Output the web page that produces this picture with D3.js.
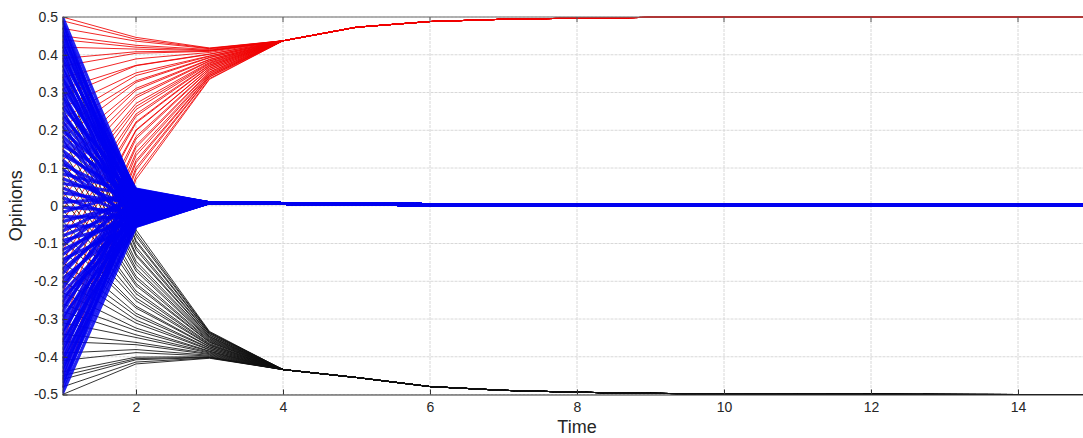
<!DOCTYPE html>
<html>
<head>
<meta charset="utf-8">
<script src="https://cdn.jsdelivr.net/npm/d3@7/dist/d3.min.js"></script>
<style>
  html, body { margin: 0; padding: 0; background: #fff; }
  svg { display: block; }
  text { font-family: "Liberation Sans", Arial, sans-serif; fill: #262626; }
</style>
</head>
<body>
<script>
// ---------------- DATA ----------------
const timeSteps = [1, 2, 3, 4, 5, 6, 7, 8, 9, 10, 11, 12, 13, 14, 15];
const xTickValues = [2, 4, 6, 8, 10, 12, 14];
const yTickValues = [-0.5, -0.4, -0.3, -0.2, -0.1, 0, 0.1, 0.2, 0.3, 0.4, 0.5];
const yTickLabels = ["-0.5", "-0.4", "-0.3", "-0.2", "-0.1", "0", "0.1", "0.2", "0.3", "0.4", "0.5"];

// Red agents (converge to +0.5): opinion at t=1, t=2, t=3
const redStart = [0.49, 0.47, 0.44, 0.42, 0.39, 0.37, 0.34, 0.31, 0.29, 0.26,
                  0.23, 0.21, 0.18, 0.15, 0.12, 0.10, 0.07, 0.04, 0.02, -0.01,
                  -0.04, -0.07, -0.09, -0.12, -0.15, -0.17, -0.20, -0.23, -0.26, -0.28,
                  -0.31, -0.34, -0.36, -0.39, -0.41, -0.44, -0.46, -0.48, 0.50, 0.45];
const redStep2 = [0.441, 0.436, 0.420, 0.415, 0.408, 0.404, 0.389, 0.372, 0.371, 0.352,
                  0.345, 0.331, 0.327, 0.311, 0.306, 0.292, 0.286, 0.271, 0.263, 0.255,
                  0.243, 0.237, 0.222, 0.219, 0.201, 0.199, 0.183, 0.177, 0.160, 0.154,
                  0.141, 0.133, 0.120, 0.114, 0.101, 0.094, 0.079, 0.070, 0.446, 0.425];
const redStep3 = [0.417, 0.416, 0.412, 0.411, 0.410, 0.409, 0.406, 0.402, 0.401, 0.397,
                  0.396, 0.393, 0.392, 0.388, 0.387, 0.384, 0.383, 0.380, 0.378, 0.376,
                  0.373, 0.372, 0.369, 0.368, 0.364, 0.364, 0.360, 0.359, 0.355, 0.354,
                  0.351, 0.349, 0.346, 0.345, 0.342, 0.341, 0.337, 0.335, 0.418, 0.414];
// common red trajectory for t = 4..15
const redTail = [0.437, 0.473, 0.488, 0.494, 0.497, 0.499, 0.4995, 0.4998, 0.4999, 0.5, 0.5, 0.5];

// Black agents (converge to -0.5)
const blackStart = [0.49, 0.47, 0.44, 0.42, 0.39, 0.37, 0.34, 0.31, 0.29, 0.26,
                    0.23, 0.21, 0.18, 0.15, 0.12, 0.10, 0.07, 0.04, 0.02, -0.01,
                    -0.04, -0.07, -0.09, -0.12, -0.15, -0.17, -0.20, -0.23, -0.26, -0.28,
                    -0.31, -0.34, -0.36, -0.39, -0.41, -0.44, -0.46, -0.48, -0.50, -0.45];
const blackStep2 = [-0.064, -0.073, -0.080, -0.092, -0.097, -0.109, -0.116, -0.128, -0.133, -0.147,
                    -0.155, -0.166, -0.173, -0.187, -0.194, -0.206, -0.212, -0.226, -0.233, -0.244,
                    -0.252, -0.266, -0.271, -0.285, -0.292, -0.303, -0.311, -0.324, -0.331, -0.342,
                    -0.349, -0.362, -0.368, -0.381, -0.389, -0.401, -0.408, -0.414, -0.419, -0.405];
const blackStep3 = [-0.333, -0.335, -0.336, -0.338, -0.339, -0.342, -0.343, -0.346, -0.347, -0.349,
                    -0.351, -0.353, -0.355, -0.357, -0.359, -0.361, -0.362, -0.365, -0.367, -0.369,
                    -0.370, -0.373, -0.374, -0.377, -0.378, -0.381, -0.382, -0.385, -0.386, -0.388,
                    -0.390, -0.392, -0.394, -0.396, -0.398, -0.400, -0.402, -0.403, -0.404, -0.401];
// common black trajectory for t = 4..15
const blackTail = [-0.434, -0.455, -0.479, -0.489, -0.494, -0.497, -0.4985, -0.4993, -0.4997, -0.4999, -0.5, -0.5];

// Blue agents (converge to 0): opinion at t=1 and t=2
const blueStart = [0.500, 0.488, 0.475, 0.462, 0.451, 0.437, 0.425, 0.413, 0.399, 0.387,
                   0.374, 0.362, 0.349, 0.336, 0.325, 0.311, 0.299, 0.286, 0.274, 0.261,
                   0.248, 0.236, 0.223, 0.211, 0.198, 0.185, 0.173, 0.160, 0.147, 0.135,
                   0.122, 0.110, 0.097, 0.084, 0.072, 0.059, 0.047, 0.034, 0.021, 0.009,
                   -0.004, -0.017, -0.029, -0.042, -0.054, -0.067, -0.080, -0.092, -0.105, -0.117,
                   -0.130, -0.143, -0.155, -0.168, -0.180, -0.193, -0.206, -0.218, -0.231, -0.243,
                   -0.256, -0.269, -0.281, -0.294, -0.306, -0.319, -0.332, -0.344, -0.357, -0.369,
                   -0.382, -0.395, -0.407, -0.420, -0.432, -0.445, -0.458, -0.470, -0.483, -0.497];
const blueStep2 = [0.030, -0.021, 0.012, -0.044, 0.038, -0.008, 0.021, -0.035, 0.004, 0.043,
                   -0.027, 0.016, -0.050, 0.027, -0.013, 0.035, -0.040, 0.008, -0.018, 0.041,
                   -0.031, 0.019, -0.004, -0.047, 0.032, 0.001, -0.024, 0.044, -0.010, 0.024,
                   -0.052, 0.013, -0.038, 0.037, -0.006, 0.029, -0.029, 0.006, -0.045, 0.022,
                   -0.016, 0.039, -0.033, 0.010, -0.054, 0.026, -0.002, -0.041, 0.033, -0.020,
                   0.015, -0.048, 0.040, -0.011, 0.018, -0.036, 0.003, 0.031, -0.026, -0.053,
                   0.011, -0.015, 0.036, -0.043, 0.023, -0.007, -0.032, 0.042, -0.049, 0.014,
                   -0.023, 0.028, -0.039, 0.002, -0.051, 0.020, -0.012, -0.046, 0.009, -0.055];
// common blue trajectory for t = 3..15
const blueTail = [0.008, 0.006, 0.004, 0.003, 0.002, 0.002, 0.001, 0.001, 0.001, 0.001, 0.001, 0.001, 0.001];

const seriesColors = { red: "#f00000", black: "#111111", blue: "#0000f0" };

// ---------------- BUILD SERIES ----------------
function toPoints(vals) { return vals.map((v, i) => [timeSteps[i], v]); }
const redLines = redStart.map((s, i) => ({ c: "red", pts: toPoints([s, redStep2[i], redStep3[i], ...redTail]) }));
const blackLines = blackStart.map((s, i) => ({ c: "black", pts: toPoints([s, blackStep2[i], blackStep3[i], ...blackTail]) }));
const blueLines = blueStart.map((s, i) => ({ c: "blue", pts: toPoints([s, blueStep2[i], ...blueTail]) }));

// red and black drawn first, blue drawn over them
const allLines = [...redLines, ...blackLines, ...blueLines];

// ---------------- CHART ----------------
const W = 1083, H = 438;
const svg = d3.select("body").append("svg").attr("width", W).attr("height", H);

const x = d3.scaleLinear().domain([1, 15]).range([62.5, 1091.5]);
const y = d3.scaleLinear().domain([-0.5, 0.5]).range([394.5, 17]);

// grid
const grid = svg.append("g");
grid.selectAll("line.vg").data(xTickValues).join("line")
  .attr("x1", d => x(d)).attr("x2", d => x(d))
  .attr("y1", y(0.5)).attr("y2", y(-0.5))
  .attr("stroke", "#d8d8d8").attr("stroke-width", 1).attr("stroke-dasharray", "3,1");
grid.selectAll("line.hg").data(yTickValues).join("line")
  .attr("x1", x(1)).attr("x2", x(15))
  .attr("y1", d => y(d)).attr("y2", d => y(d))
  .attr("stroke", "#d8d8d8").attr("stroke-width", 1).attr("stroke-dasharray", "3,1");

// clip
svg.append("clipPath").attr("id", "plotclip").append("rect")
  .attr("x", x(1)).attr("y", y(0.5) - 1).attr("width", x(15) - x(1)).attr("height", y(-0.5) - y(0.5) + 2);

const line = d3.line().x(d => x(d[0])).y(d => y(d[1]));
svg.append("g").attr("clip-path", "url(#plotclip)")
  .selectAll("path").data(allLines).join("path")
  .attr("d", d => line(d.pts))
  .attr("fill", "none")
  .attr("stroke", d => seriesColors[d.c])
  .attr("stroke-opacity", d => d.c === "blue" ? 0.86 : 0.85)
  .attr("stroke-width", d => d.c === "blue" ? 3.2 : 1.0)
  .attr("stroke-linejoin", "round");

// axes
const xAxis = d3.axisBottom(x).tickValues(xTickValues).tickFormat(d3.format("d"))
  .tickSizeInner(-5).tickSizeOuter(0).tickPadding(8);
const gx = svg.append("g").attr("transform", `translate(0,${y(-0.5)})`).call(xAxis);
gx.select(".domain").attr("stroke", "#333").attr("stroke-width", 1.2);
gx.selectAll(".tick line").attr("stroke", "#333");
gx.selectAll(".tick text").attr("font-size", 14).attr("fill", "#262626")
  .style("font-family", '"Liberation Sans", Arial, sans-serif');

const yAxis = d3.axisLeft(y).tickValues(yTickValues).tickFormat((d, i) => yTickLabels[i])
  .tickSizeInner(-5).tickSizeOuter(0).tickPadding(4.5);
const gy = svg.append("g").attr("transform", `translate(${x(1)},0)`).call(yAxis);
gy.select(".domain").attr("stroke", "#333").attr("stroke-width", 1);
gy.selectAll(".tick line").attr("stroke", "#333");
gy.selectAll(".tick text").attr("font-size", 14).attr("fill", "#262626")
  .style("font-family", '"Liberation Sans", Arial, sans-serif');

// top border with inward ticks
const topG = svg.append("g");
topG.append("line").attr("x1", x(1)).attr("x2", x(15)).attr("y1", y(0.5)).attr("y2", y(0.5))
  .attr("stroke", "#6e6e6e").attr("stroke-width", 1.2);
topG.selectAll("line.tt").data(xTickValues).join("line")
  .attr("x1", d => x(d)).attr("x2", d => x(d)).attr("y1", y(0.5)).attr("y2", y(0.5) + 5)
  .attr("stroke", "#555");

// axis labels
svg.append("text").attr("x", x(8)).attr("y", 433).attr("text-anchor", "middle")
  .attr("font-size", 18).text("Time");
svg.append("text").attr("transform", `translate(22,${y(0)}) rotate(-90)`)
  .attr("text-anchor", "middle").attr("font-size", 18).text("Opinions");
</script>
</body>
</html>
